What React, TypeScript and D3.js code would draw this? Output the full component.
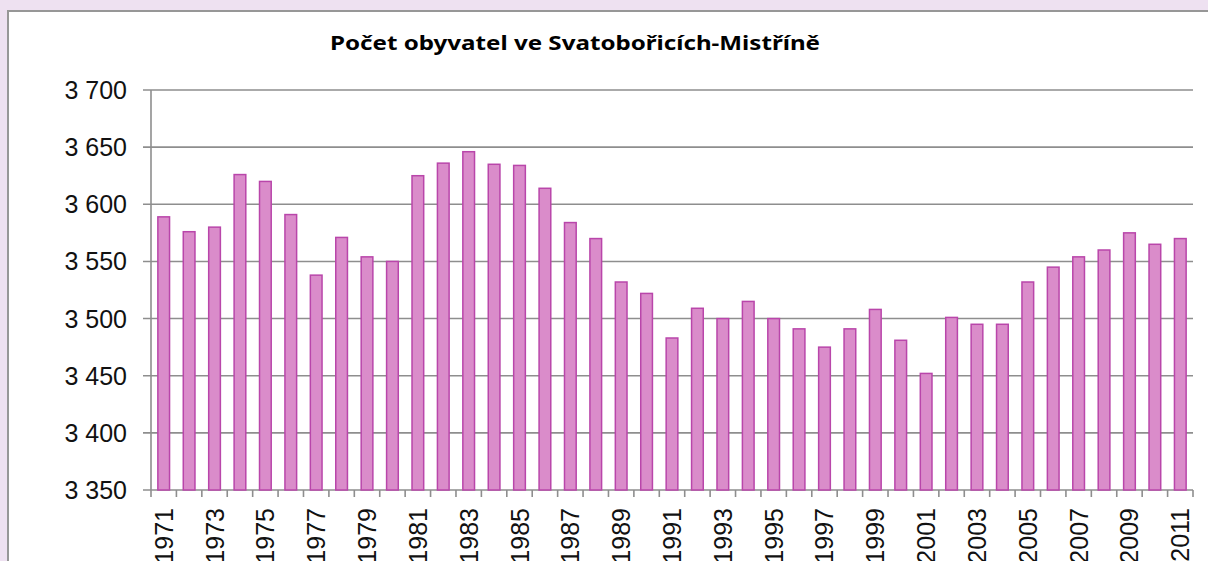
import React from "react";
import * as d3 from "d3";

const years: string[] = [
  "1971","1972","1973","1974","1975","1976","1977","1978","1979","1980",
  "1981","1982","1983","1984","1985","1986","1987","1988","1989","1990",
  "1991","1992","1993","1994","1995","1996","1997","1998","1999","2000",
  "2001","2002","2003","2004","2005","2006","2007","2008","2009","2010","2011",
];

const population: number[] = [
  3589, 3576, 3580, 3626, 3620, 3591, 3538, 3571, 3554, 3550,
  3625, 3636, 3646, 3635, 3634, 3614, 3584, 3570, 3532, 3522,
  3483, 3509, 3500, 3515, 3500, 3491, 3475, 3491, 3508, 3481,
  3452, 3501, 3495, 3495, 3532, 3545, 3554, 3560, 3575, 3565, 3570,
];

const yTicks: number[] = [3350, 3400, 3450, 3500, 3550, 3600, 3650, 3700];
const xLabels: string[] = [
  "1971","1973","1975","1977","1979","1981","1983","1985","1987","1989","1991",
  "1993","1995","1997","1999","2001","2003","2005","2007","2009","2011",
];

const title = "Počet obyvatel ve Svatobořicích-Mistříně";

export default function App() {
  const W = 1208, H = 561;
  const left = 151, right = 1193, top = 90, bottom = 490;
  const pInner = 0.54;

  const x = d3.scaleBand<string>().domain(years).range([left, right])
    .paddingInner(pInner).paddingOuter(pInner / 2);
  const y = d3.scaleLinear().domain([3350, 3700]).range([bottom, top]);
  const step = x.step();
  const fmt = (v: number) => d3.format(",")(v).replace(/,/g, " ");

  const boundaries = years.map((yr) => (x(yr) as number) - (step * pInner) / 2);
  boundaries.push(right);

  return (
    <svg width={W} height={H} style={{ position: "absolute", left: 0, top: 0 }}>
      <rect x={0} y={0} width={W} height={H} fill="#EEE1F1" />
      <rect x={8} y={11} width={W + 20} height={H + 20} fill="#ffffff" stroke="#979797" strokeWidth={2} />
      <text x={575} y={50} textAnchor="middle" fontFamily="Noto Sans, Open Sans, sans-serif"
        fontWeight="bold" fontSize={20} fill="#000"
        textLength={490} lengthAdjust="spacingAndGlyphs">{title}</text>

      {yTicks.map((t) => (
        <g key={t}>
          <line x1={left - 8} x2={right} y1={y(t)} y2={y(t)} stroke="#8E8E8E" strokeWidth={1.6} />
          <text x={127} y={y(t)} dy="0.36em" textAnchor="end" fontFamily="Liberation Sans, Arial, sans-serif"
            fontSize={25} fill="#111">{fmt(t)}</text>
        </g>
      ))}
      <line x1={left} x2={left} y1={top} y2={bottom} stroke="#8E8E8E" strokeWidth={1.6} />

      {boundaries.map((bx, i) => (
        <line key={i} x1={bx} x2={bx} y1={bottom} y2={bottom + 7} stroke="#8E8E8E" strokeWidth={1.6} />
      ))}

      {years.map((yr, i) => (
        <rect key={yr} x={x(yr) as number} y={y(population[i])} width={x.bandwidth()}
          height={bottom - y(population[i])} fill="#DA8CCA" stroke="#B946AA" strokeWidth={1.5} />
      ))}

      {xLabels.map((lb) => {
        const cx = (x(lb) as number) + x.bandwidth() / 2;
        return (
          <text key={lb} transform={`translate(${cx},508) rotate(-90)`} dy="0.36em" textAnchor="end"
            fontFamily="Liberation Sans, Arial, sans-serif" fontSize={25} fill="#111">{lb}</text>
        );
      })}
    </svg>
  );
}
